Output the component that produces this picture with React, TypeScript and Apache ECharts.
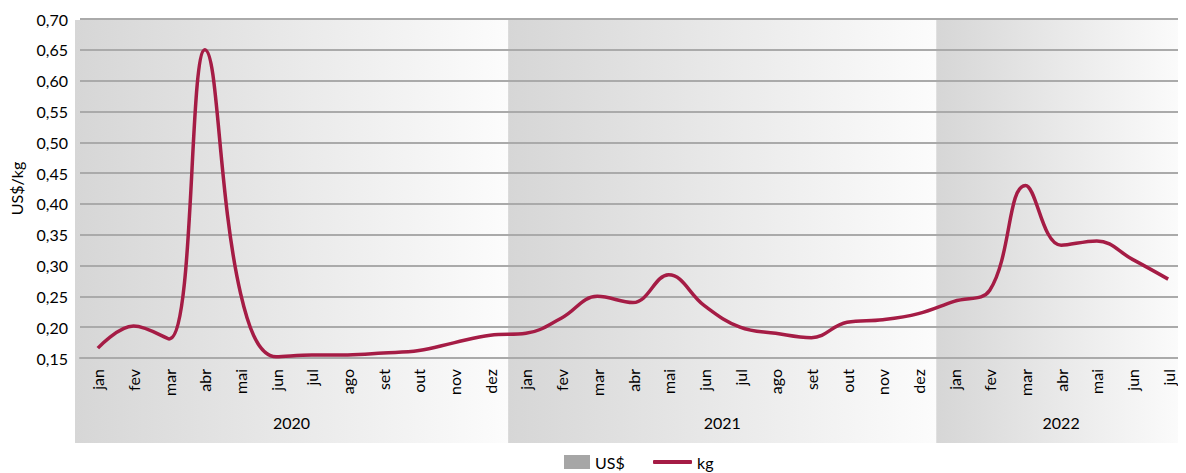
import React, { useEffect, useRef } from "react";
import * as echarts from "echarts";

const months = ["jan", "fev", "mar", "abr", "mai", "jun", "jul", "ago", "set", "out", "nov", "dez"];
const categories = [...months, ...months, ...months.slice(0, 7)];
const kgValues = [
  0.166, 0.202, 0.181, 0.65, 0.255, 0.152, 0.155, 0.155, 0.158, 0.162, 0.175, 0.187,
  0.19, 0.215, 0.25, 0.24, 0.285, 0.235, 0.2, 0.19, 0.183, 0.208, 0.212, 0.222,
  0.242, 0.26, 0.43, 0.333, 0.34, 0.31, 0.278,
];
const yearLabels = ["2020", "2021", "2022"];
const yearStart = [0, 12, 24];
const yearEnd = [11, 23, 30];

const FONT = "Lato";
const LINE_COLOR = "#a51c45";

export default function App() {
  const ref = useRef<HTMLDivElement>(null);
  useEffect(() => {
    if (!ref.current) return;
    const chart = echarts.init(ref.current, undefined, { renderer: "svg" });
    const bandData = yearLabels.map((y, i) => [yearStart[i], yearEnd[i], y]);
    const legendText = { fontFamily: FONT, fontSize: 16, color: "#000" };
    chart.setOption({
      animation: false,
      grid: { left: 79, right: 0, top: 19, bottom: 115 },
      legend: [
        {
          top: 454,
          left: 564,
          padding: 0,
          itemWidth: 26,
          itemHeight: 14,
          textStyle: legendText,
          data: [{ name: "US$", icon: "rect", itemStyle: { color: "#a6a6a6" } }],
        },
        {
          top: 454,
          left: 653,
          padding: 0,
          itemWidth: 39,
          itemHeight: 4,
          textStyle: legendText,
          data: [{ name: "kg", icon: "roundRect", itemStyle: { color: LINE_COLOR } }],
        },
      ],
      xAxis: {
        type: "category",
        data: categories,
        boundaryGap: true,
        axisLine: { show: true, lineStyle: { color: "#aaaaaa", width: 2 } },
        axisTick: { show: false },
        axisLabel: {
          rotate: 90,
          margin: 11,
          interval: 0,
          fontFamily: FONT,
          fontSize: 16,
          color: "#000",
        },
      },
      yAxis: {
        type: "value",
        min: 0.15,
        max: 0.7,
        interval: 0.05,
        name: "US$/kg",
        nameLocation: "middle",
        nameGap: 56,
        nameTextStyle: { fontFamily: FONT, fontSize: 16, color: "#000" },
        axisLine: { show: false },
        axisTick: { show: false },
        axisLabel: {
          margin: 12,
          fontFamily: FONT,
          fontSize: 16,
          color: "#000",
          formatter: (v: number) => v.toFixed(2).replace(".", ","),
        },
        splitLine: { show: true, lineStyle: { color: "#aaaaaa", width: 2 } },
      },
      series: [
        {
          name: "US$",
          type: "custom",
          z: -1,
          clip: false,
          silent: true,
          itemStyle: { color: "#a6a6a6" },
          encode: { x: [0, 1] },
          data: bandData,
          renderItem: (params: any, api: any) => {
            const s = api.value(0);
            const e = api.value(1);
            const w = api.size([1, 0])[0];
            const p0 = api.coord([s, 0.7]);
            const p1 = api.coord([e, 0.15]);
            const x0 = p0[0] - w / 2 - (params.dataIndex === 0 ? 5 : 0);
            const x1 = p1[0] + w / 2;
            const top = p0[1] + 1;
            const bottom = p1[1] + 85;
            return {
              type: "group",
              children: [
                {
                  type: "rect",
                  shape: { x: x0, y: top, width: x1 - x0, height: bottom - top },
                  style: {
                    fill: new echarts.graphic.LinearGradient(0, 0, 1, 0, [
                      { offset: 0, color: "#d6d6d6" },
                      { offset: 1, color: "#fcfcfc" },
                    ]),
                  },
                },
                {
                  type: "text",
                  style: {
                    text: String(yearLabels[params.dataIndex]),
                    x: (x0 + x1) / 2,
                    y: p1[1] + 64,
                    textAlign: "center",
                    textVerticalAlign: "middle",
                    fill: "#000",
                    font: `16px ${FONT}`,
                  },
                },
              ],
            };
          },
        },
        {
          name: "kg",
          type: "line",
          data: kgValues,
          smooth: 0.4,
          symbol: "none",
          lineStyle: { color: LINE_COLOR, width: 3.5 },
          itemStyle: { color: LINE_COLOR },
          z: 3,
        },
      ],
    });
    return () => chart.dispose();
  }, []);
  return <div ref={ref} style={{ width: 1186, height: 473, marginLeft: -8, marginTop: -8 }} />;
}
